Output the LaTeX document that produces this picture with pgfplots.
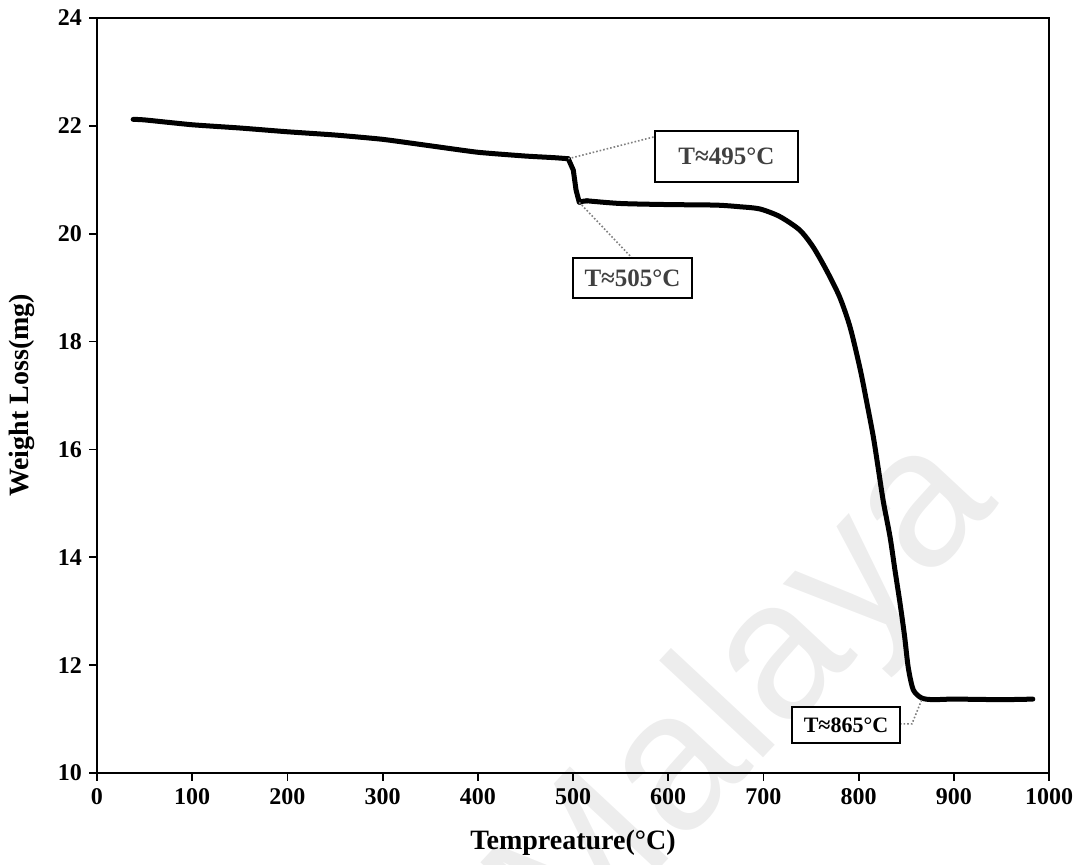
\documentclass[border=0pt]{standalone}
\usepackage{fontspec}
\setmainfont{Liberation Serif}
\setsansfont{Liberation Sans}
\usepackage{pgfplots}
\pgfplotsset{compat=1.18}

\begin{document}
\begin{tikzpicture}
\begin{axis}[name=ax, set layers, scale only axis, width=476pt, height=377.5pt,
  xmin=0, xmax=1000, ymin=10, ymax=24,
  xtick={0,100,...,1000}, ytick={10,12,...,24},
  tick pos=left, tick align=outside, major tick length=4pt,
  tick style={line width=0.9pt, black},
  axis line style={line width=1pt},
  /pgf/number format/assume math mode=true,
  /pgf/number format/1000 sep={},
  ticklabel style={font=\bfseries\fontsize{12}{12}\selectfont},
  xlabel={Tempreature(°C)}, ylabel={Weight Loss(mg)},
  label style={font=\bfseries\fontsize{14}{14}\selectfont},
  xlabel style={at={(axis description cs:0.5,-0.0927)}, anchor=center},
  ylabel style={at={(axis description cs:-0.0788,0.5)}, anchor=center},
  clip=false]

\begin{pgfonlayer}{axis background}
\node[rotate=47, anchor=base, text=black!7, font=\sffamily\fontsize{98}{98}\selectfont] at (axis cs:722,10.7) {Malaya};
\end{pgfonlayer}

\addplot[black, line width=2.5pt, line join=round, line cap=round, smooth, tension=0.3] coordinates {
(38,22.12) (50,22.11) (100,22.02) (150,21.96) (200,21.89) (250,21.83)
(300,21.75) (350,21.63) (400,21.51) (450,21.44) (480,21.41) (495,21.39)
};
\addplot[black, line width=2.5pt, line join=round, line cap=round] coordinates {
(495,21.39) (500.3,21.18) (503.2,20.81) (506.6,20.58) (510,20.60) (514.7,20.61)
};
\addplot[black, line width=2.5pt, line join=round, line cap=round, smooth, tension=0.45] coordinates {
(514.7,20.61) (550,20.56) (600,20.54) (650,20.53) (675,20.50) (696,20.46)
(717,20.32) (738,20.07) (752,19.76) (766,19.33) (780,18.83) (791,18.27)
(801.5,17.50) (808.5,16.88) (815.4,16.24) (820.7,15.64) (826,15.03) (833,14.38)
(838.2,13.76) (843.5,13.15) (848.2,12.55) (852.2,11.95) (857.5,11.54) (866.3,11.39)
(878.5,11.36) (900,11.37) (950,11.36) (983,11.37)
};

% leader lines
\draw[gray, densely dotted, line width=0.8pt] (axis cs:495,21.39) -- (axis cs:586.1,21.8);
\draw[gray, densely dotted, line width=0.8pt] (axis cs:506.6,20.58) -- (axis cs:562,19.55);
\draw[gray, densely dotted, line width=0.8pt] (axis cs:843.5,10.91) -- (axis cs:856,10.91) -- (axis cs:866.6,11.37);

% annotation boxes
\node[draw=black, line width=0.75pt, fill=white, text=black!75, inner sep=0pt,
  minimum width=71.5pt, minimum height=25.5pt, font=\bfseries\fontsize{12.5}{12.5}\selectfont]
  at (axis cs:661.2,21.43) {T≈495°C};
\node[draw=black, line width=0.75pt, fill=white, text=black!75, inner sep=0pt,
  minimum width=59.5pt, minimum height=20pt, font=\bfseries\fontsize{12.5}{12.5}\selectfont]
  at (axis cs:562.5,19.18) {T≈505°C};
\node[draw=black, line width=0.75pt, fill=white, text=black, inner sep=0pt,
  minimum width=54pt, minimum height=18pt, font=\bfseries\fontsize{11}{11}\selectfont]
  at (axis cs:786.8,10.89) {T≈865°C};
\end{axis}
\pgfresetboundingbox
\path[use as bounding box] ([xshift=-48.5pt,yshift=-46pt]ax.south west) rectangle ([xshift=19pt,yshift=9pt]ax.north east);
\end{tikzpicture}
\end{document}
